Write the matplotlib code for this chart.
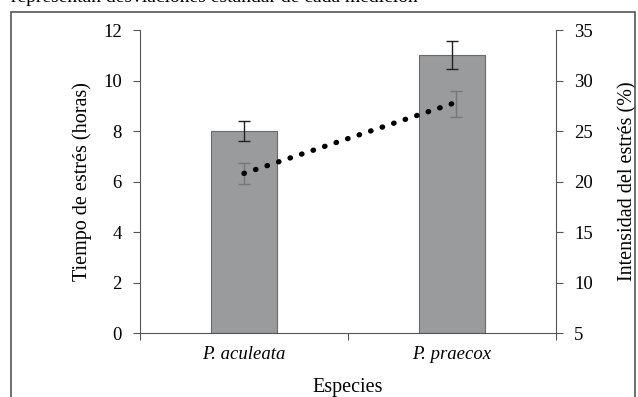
import numpy as np
import matplotlib.pyplot as plt
from matplotlib.patches import Rectangle

plt.rcParams['font.family'] = ['Liberation Serif', 'DejaVu Serif']

especies = ["P. aculeata", "P. praecox"]
tiempo_horas = [8.0, 11.0]
tiempo_de = [0.4, 0.55]
intensidad = [20.8, 27.7]
intensidad_de = [1.0, 1.3]

fig = plt.figure(figsize=(6.38, 3.97), dpi=100)
ax = fig.add_axes([0.2194, 0.1612, 0.652, 0.7632])
x = np.arange(len(especies))

ax.bar(x, tiempo_horas, width=0.32, color="#9a9b9d", edgecolor="#6a6a6a", linewidth=0.8, zorder=2)
ax.errorbar(x, tiempo_horas, yerr=tiempo_de, fmt="none", ecolor="#222222",
            elinewidth=1.0, capsize=4, capthick=1.0, zorder=3)
ax.set_xlim(-0.5, 1.5)
ax.set_ylim(0, 12)
ax.set_yticks(np.arange(0, 13, 2))
ax.set_xticks([-0.5, 0.5, 1.5], minor=False)
ax.set_xticklabels([])
ax.set_xticks(x, minor=True)
ax.set_xticklabels(especies, minor=True, style="italic", fontsize=13.5)
ax.tick_params(axis="x", which="minor", length=0, pad=9)
ax.tick_params(axis="x", which="major", length=5, direction="out", color="#555555")
ax.tick_params(axis="y", labelsize=13.5, length=5, color="#555555", pad=8)
ax.spines["top"].set_visible(False)
ax.spines["right"].set_visible(False)
for s in ["left", "bottom"]:
    ax.spines[s].set_color("#555555")
ax.set_ylabel("Tiempo de estrés (horas)", fontsize=14.5, labelpad=8)
ax.set_xlabel("Especies", fontsize=14.5, labelpad=11)

ax2 = ax.twinx()
ax2.plot(x, intensidad, linestyle=(0, (0.1, 2.2)), color="black", linewidth=3.8,
         dash_capstyle="round", zorder=4)
ax2.errorbar(x + np.array([0.0, 0.02]), intensidad, yerr=intensidad_de, fmt="none",
             ecolor="#777777", elinewidth=1.0, capsize=4, capthick=1.0)
ax2.set_ylim(5, 35)
ax2.set_yticks(np.arange(5, 36, 5))
ax2.tick_params(axis="y", labelsize=13.5, length=5, color="#555555", pad=8)
for s in ["top", "left", "bottom"]:
    ax2.spines[s].set_visible(False)
ax2.spines["right"].set_color("#555555")
ax2.set_ylabel("Intensidad del estrés (%)", fontsize=14.5, labelpad=18)

fig.patches.append(Rectangle((11 / 638, -0.1), 624 / 638, 1 - 12 / 397 + 0.1,
                             transform=fig.transFigure, fill=False,
                             edgecolor="#555555", linewidth=1.2))
fig.text(11 / 638, 1 + 2 / 397, "representan desviaciones estándar de cada medición",
         fontsize=14, va="center", ha="left")

fig.savefig("out.png", dpi=100)
